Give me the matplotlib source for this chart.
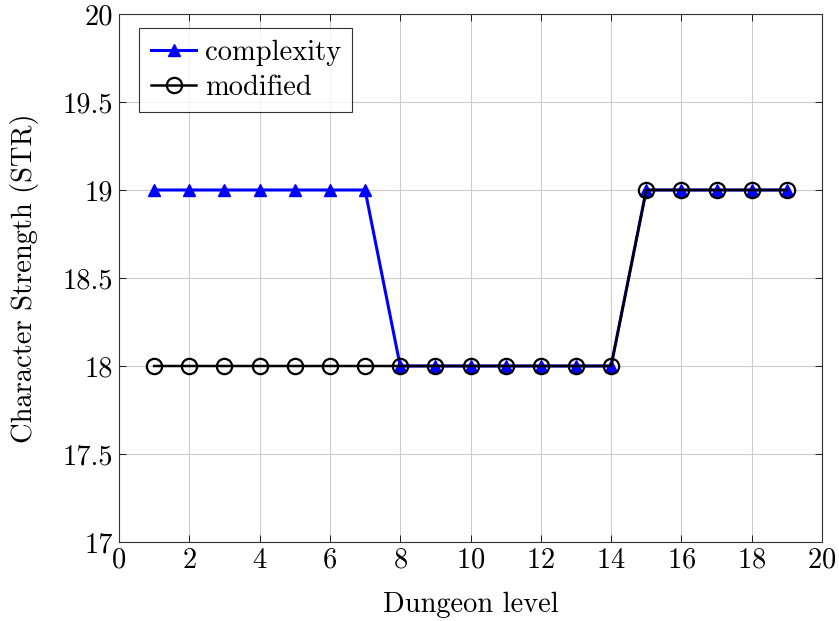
import matplotlib.pyplot as plt

plt.rcParams['font.family'] = ['cmr10', 'DejaVu Serif']
plt.rcParams['axes.formatter.use_mathtext'] = True
plt.rcParams['mathtext.fontset'] = 'cm'

levels = list(range(1, 20))
complexity = [19, 19, 19, 19, 19, 19, 19, 18, 18, 18, 18, 18, 18, 18, 19, 19, 19, 19, 19]
modified = [18, 18, 18, 18, 18, 18, 18, 18, 18, 18, 18, 18, 18, 18, 19, 19, 19, 19, 19]

fig = plt.figure(figsize=(8.39, 6.21), dpi=100)
ax = fig.add_axes([119 / 839, 1 - 542 / 621, 703 / 839, 528 / 621])

ax.plot(levels, complexity, color='blue', lw=2.2, marker='^', markersize=8,
        label='complexity', zorder=3)
ax.plot(levels, modified, color='black', lw=1.8, marker='o', markersize=11,
        markerfacecolor='none', markeredgewidth=1.6, label='modified', zorder=4)

fs = 20.5
ax.set_xlim(0, 20)
ax.set_ylim(17, 20)
ax.set_xticks(range(0, 21, 2))
ax.set_yticks([17, 17.5, 18, 18.5, 19, 19.5, 20])
ax.set_yticklabels(['17', '17.5', '18', '18.5', '19', '19.5', '20'])
ax.tick_params(direction='in', top=True, right=True, labelsize=fs, length=5, width=0.6, pad=4)
ax.grid(True, color='#cccccc', lw=0.8)
ax.set_axisbelow(True)
for s in ax.spines.values():
    s.set_linewidth(0.8)
    s.set_color('#333333')

ax.set_xlabel('Dungeon level', fontsize=fs, labelpad=13)
ax.set_ylabel('Character Strength (STR)', fontsize=fs, labelpad=17)

leg = ax.legend(loc='upper left', bbox_to_anchor=(0.029, 0.973), fontsize=fs, frameon=True,
                fancybox=False, edgecolor='black', handlelength=1.6, handletextpad=0.3,
                borderpad=0.4, labelspacing=0.3, borderaxespad=0)
leg.get_frame().set_linewidth(0.8)

fig.savefig('out.png', dpi=100)
